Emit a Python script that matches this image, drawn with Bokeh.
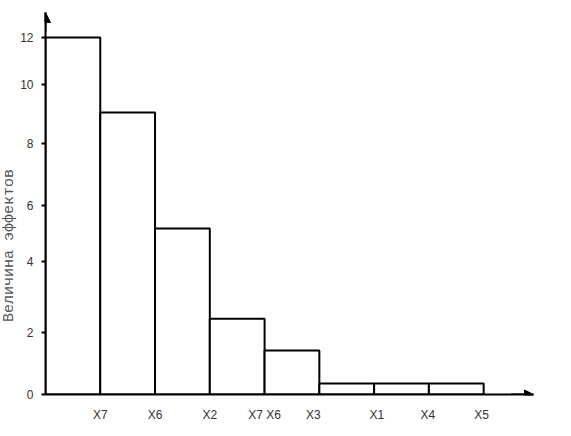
from bokeh.plotting import figure
from bokeh.layouts import row
from bokeh.models import Range1d, FixedTicker, Arrow, NormalHead, ColumnDataSource
from bokeh.core.properties import value
from bokeh.embed import file_html
from bokeh.resources import INLINE
import math

# Effects (Pareto chart), bars in order
bar_names = ["X7", "X6", "X2", "X7 X6", "X3", "X1", "X4", "X5"]
bar_values = [12.0, 9.48, 5.58, 2.55, 1.48, 0.37, 0.37, 0.37]
label_positions = [1, 2, 3, 4, 4.89, 6.05, 6.98, 7.96]

# y-axis ticks as drawn on the original (uneven spacing)
y_tick_positions = [0, 2.08, 4.47, 6.35, 8.44, 10.42, 12.0]
y_tick_labels = ["0", "2", "4", "6", "8", "10", "12"]

y_title = "Величина эффектов"

TITLE_W = 17
W, H = 571, 436

# narrow strip holding the rotated y title
t = figure(width=TITLE_W, height=H, output_backend="svg", toolbar_location=None,
           x_range=Range1d(0, TITLE_W), y_range=Range1d(0, H),
           x_axis_location=None, y_axis_location=None,
           min_border_left=0, min_border_right=0, min_border_top=0, min_border_bottom=0)
t.outline_line_color = None
t.xgrid.visible = False
t.ygrid.visible = False
t.text(x=[8.5], y=[H - 266], text=[y_title], angle=math.pi / 2,
       text_align="center", text_baseline="middle",
       text_font=value("Liberation Mono"), text_font_size="15px",
       text_color="#555555")

lefts = list(range(len(bar_values)))
rights = [l + 1 for l in lefts]
src = ColumnDataSource(dict(left=lefts, right=rights, top=bar_values,
                            bottom=[0] * len(bar_values)))

p = figure(width=W - TITLE_W, height=H, output_backend="svg", toolbar_location=None,
           x_range=Range1d(0, 8.91), y_range=Range1d(0, 12.84),
           min_border_left=43 - TITLE_W, min_border_right=38, min_border_top=12,
           min_border_bottom=42)
p.outline_line_color = None
p.xgrid.visible = False
p.ygrid.visible = False
p.background_fill_color = "white"

p.quad(left="left", right="right", top="top", bottom="bottom", source=src,
       fill_color="white", line_color="black", line_width=2)

# x axis
p.xaxis.ticker = FixedTicker(ticks=label_positions)
p.xaxis.major_label_overrides = {float(k): v for k, v in zip(label_positions, bar_names)}
p.xaxis.major_tick_line_color = None
p.xaxis.minor_tick_line_color = None
p.xaxis.axis_line_width = 2
p.xaxis.axis_line_color = "black"
p.xaxis.major_label_standoff = 7
p.xaxis.major_label_text_font = "Liberation Sans"
p.xaxis.major_label_text_font_size = "12px"
p.xaxis.major_label_text_color = "#333333"

# y axis
p.yaxis.ticker = FixedTicker(ticks=y_tick_positions)
p.yaxis.major_label_overrides = {float(k): v for k, v in zip(y_tick_positions, y_tick_labels)}
p.yaxis.minor_tick_line_color = None
p.yaxis.major_tick_in = 0
p.yaxis.major_tick_out = 4
p.yaxis.major_tick_line_width = 2
p.yaxis.axis_line_width = 2
p.yaxis.axis_line_color = "black"
p.yaxis.major_label_standoff = 8
p.yaxis.major_label_text_font = "Liberation Sans"
p.yaxis.major_label_text_font_size = "12px"
p.yaxis.major_label_text_color = "#333333"

# arrow heads at the ends of the axes
p.add_layout(Arrow(end=NormalHead(size=9, fill_color="black", line_color="black"),
                   x_start=8.5, y_start=0, x_end=8.91, y_end=0,
                   line_width=2, line_color="black"))
p.add_layout(Arrow(end=NormalHead(size=10, fill_color="black", line_color="black"),
                   x_start=0, y_start=12.2, x_end=0, y_end=12.84,
                   line_width=2, line_color="black"))

layout = row(t, p, spacing=0)
open("out.html", "w").write(file_html(layout, INLINE))
